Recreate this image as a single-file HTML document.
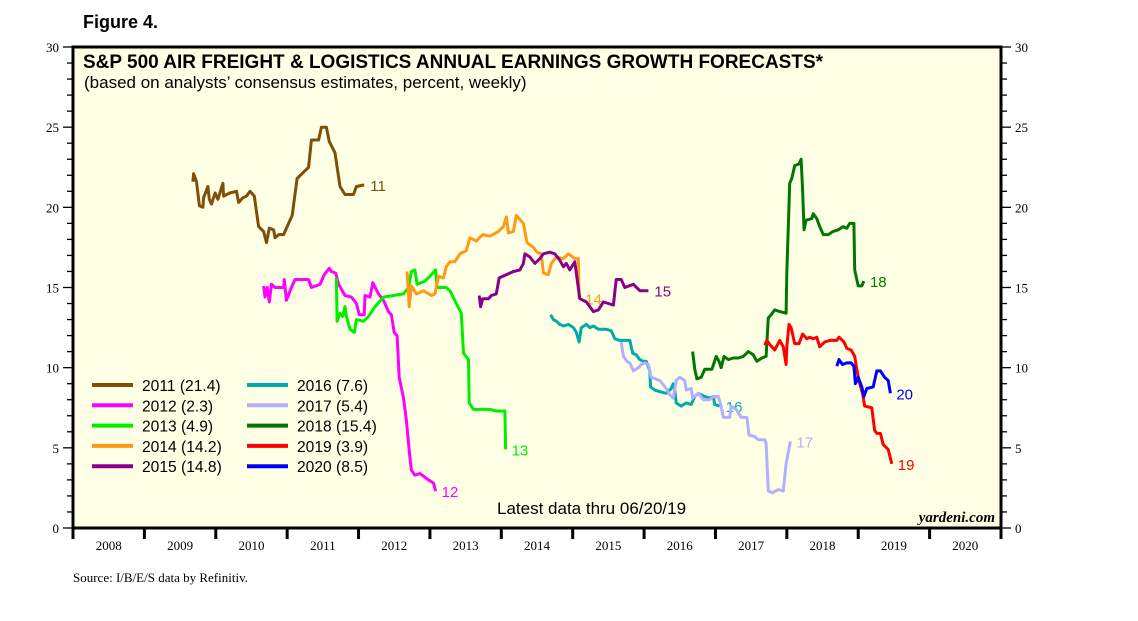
<!DOCTYPE html>
<html><head><meta charset="utf-8">
<style>
body{margin:0;background:#fff;width:1138px;height:621px;overflow:hidden}
svg{display:block}
</style></head>
<body>
<svg id="chart" width="1138" height="621" xmlns="http://www.w3.org/2000/svg">
<text x="83" y="28" font-family="Liberation Sans, sans-serif" font-weight="bold" font-size="18">Figure 4.</text>
<rect x="73" y="47" width="928" height="481" fill="#ffffe6"/>
<g id="series"></g>
<g id="axes"></g>
<rect x="73" y="47" width="928" height="481" fill="none" stroke="#000" stroke-width="3"/>
<text x="83" y="68" font-family="Liberation Sans, sans-serif" font-weight="bold" font-size="19">S&amp;P 500 AIR FREIGHT &amp; LOGISTICS ANNUAL EARNINGS GROWTH FORECASTS*</text>
<text x="84" y="88" font-family="Liberation Sans, sans-serif" font-size="17">(based on analysts’ consensus estimates, percent, weekly)</text>
<text x="497" y="514" font-family="Liberation Sans, sans-serif" font-size="17">Latest data thru 06/20/19</text>
<text x="995" y="522" text-anchor="end" font-family="Liberation Serif, serif" font-weight="bold" font-style="italic" font-size="15">yardeni.com</text>
<text x="73" y="582" font-family="Liberation Serif, serif" font-size="13">Source: I/B/E/S data by Refinitiv.</text>
<g id="legend"></g>
</svg>
<script>
const years = [2008,2009,2010,2011,2012,2013,2014,2015,2016,2017,2018,2019,2020];
const yTicks = [0,5,10,15,20,25,30];
const seriesNames = ["2011","2012","2013","2014","2015","2016","2017","2018","2019","2020"];
const seriesLatest = ["21.4","2.3","4.9","14.2","14.8","7.6","5.4","15.4","3.9","8.5"];
const endLabels = ["11","12","13","14","15","16","17","18","19","20"];
const colors = ["#7f4f0a","#ff00ff","#00ee00","#ff9a17","#8b008b","#00aaaa","#b0b0ff","#007700","#ff0000","#0000ff"];

const d2011 = [[2009.68,21.6],[2009.69,22.1],[2009.73,21.6],[2009.77,20.1],[2009.82,20.0],[2009.83,20.6],[2009.89,21.3],[2009.91,20.5],[2009.94,20.2],[2009.99,20.9],[2010.03,20.5],[2010.10,21.5],[2010.11,20.7],[2010.20,20.9],[2010.29,21.0],[2010.32,20.3],[2010.38,20.6],[2010.43,20.7],[2010.48,21.0],[2010.54,20.7],[2010.60,18.8],[2010.67,18.5],[2010.71,17.8],[2010.75,18.7],[2010.81,18.6],[2010.83,18.1],[2010.88,18.3],[2010.95,18.3],[2011.02,19.0],[2011.07,19.5],[2011.14,21.8],[2011.23,22.2],[2011.30,22.5],[2011.34,24.2],[2011.44,24.2],[2011.48,25.0],[2011.55,25.0],[2011.59,24.1],[2011.67,23.4],[2011.74,21.3],[2011.81,20.8],[2011.93,20.8],[2011.97,21.3],[2012.08,21.4]];
const d2012 = [[2010.67,15.1],[2010.69,14.4],[2010.72,15.0],[2010.75,14.1],[2010.78,15.2],[2010.83,15.0],[2010.95,15.0],[2010.96,15.5],[2010.99,14.2],[2011.06,15.0],[2011.11,15.5],[2011.20,15.5],[2011.30,15.5],[2011.34,15.0],[2011.46,15.2],[2011.52,15.8],[2011.59,16.2],[2011.62,16.0],[2011.68,15.9],[2011.72,15.2],[2011.81,14.5],[2011.90,14.4],[2011.97,14.0],[2012.01,13.3],[2012.08,13.3],[2012.09,14.5],[2012.16,14.4],[2012.20,15.3],[2012.28,14.6],[2012.35,14.2],[2012.42,13.5],[2012.46,13.3],[2012.50,12.2],[2012.54,12.0],[2012.57,9.4],[2012.63,8.1],[2012.67,6.7],[2012.72,4.4],[2012.74,3.6],[2012.79,3.3],[2012.86,3.4],[2012.98,3.0],[2013.05,2.8],[2013.08,2.3]];
const d2013 = [[2011.69,15.6],[2011.70,12.9],[2011.74,13.4],[2011.78,13.2],[2011.81,13.8],[2011.83,13.2],[2011.88,12.4],[2011.94,12.2],[2011.97,13.0],[2012.07,12.9],[2012.14,13.2],[2012.23,13.8],[2012.35,14.4],[2012.49,14.5],[2012.63,14.6],[2012.70,15.0],[2012.74,16.0],[2012.79,16.1],[2012.82,15.2],[2012.93,15.4],[2013.02,15.8],[2013.08,16.1],[2013.10,15.0],[2013.23,15.0],[2013.28,14.8],[2013.37,14.0],[2013.44,13.4],[2013.47,10.9],[2013.54,10.5],[2013.55,7.8],[2013.61,7.4],[2013.70,7.4],[2013.84,7.4],[2013.93,7.3],[2014.05,7.3],[2014.06,4.9]];
const d2014 = [[2012.68,16.0],[2012.71,13.8],[2012.74,15.1],[2012.81,14.6],[2012.91,14.8],[2013.02,14.5],[2013.07,14.6],[2013.12,15.7],[2013.19,15.6],[2013.23,16.3],[2013.28,16.6],[2013.35,16.6],[2013.42,17.1],[2013.51,17.3],[2013.56,18.1],[2013.65,17.9],[2013.74,18.3],[2013.84,18.2],[2013.96,18.5],[2014.03,18.8],[2014.07,19.4],[2014.10,18.4],[2014.17,18.5],[2014.21,19.5],[2014.31,19.0],[2014.36,17.8],[2014.45,17.5],[2014.50,17.2],[2014.56,17.1],[2014.59,15.9],[2014.66,15.8],[2014.70,16.5],[2014.77,16.9],[2014.87,16.8],[2014.94,17.1],[2015.03,16.8],[2015.08,16.8],[2015.09,14.3]];
const d2015 = [[2013.69,14.5],[2013.71,13.8],[2013.74,14.3],[2013.82,14.3],[2013.86,14.5],[2013.93,14.6],[2013.97,15.6],[2014.07,15.8],[2014.17,16.0],[2014.26,16.1],[2014.31,16.5],[2014.33,17.1],[2014.40,16.9],[2014.47,16.5],[2014.54,16.8],[2014.59,17.1],[2014.68,17.2],[2014.75,17.1],[2014.82,16.7],[2014.87,16.3],[2014.91,16.5],[2014.96,16.1],[2015.03,16.6],[2015.10,14.3],[2015.19,14.1],[2015.29,13.5],[2015.36,13.6],[2015.43,14.1],[2015.50,14.0],[2015.57,13.9],[2015.61,15.5],[2015.68,15.5],[2015.73,15.0],[2015.85,15.2],[2015.94,14.8],[2016.06,14.8]];
const d2016 = [[2014.69,13.3],[2014.73,13.0],[2014.77,12.9],[2014.82,12.7],[2014.87,12.6],[2014.94,12.7],[2015.01,12.5],[2015.05,12.2],[2015.09,11.6],[2015.12,12.5],[2015.19,12.7],[2015.24,12.5],[2015.29,12.6],[2015.36,12.4],[2015.47,12.4],[2015.54,12.3],[2015.59,11.8],[2015.66,11.7],[2015.73,11.7],[2015.80,11.7],[2015.84,10.9],[2015.89,10.8],[2015.94,10.5],[2015.99,10.4],[2016.03,10.4],[2016.08,9.8],[2016.09,8.8],[2016.15,8.6],[2016.22,8.5],[2016.31,8.4],[2016.38,8.7],[2016.41,9.0],[2016.43,8.6],[2016.45,7.8],[2016.52,7.6],[2016.59,7.8],[2016.66,7.7],[2016.71,8.2],[2016.76,8.4],[2016.85,8.2],[2016.92,8.1],[2016.97,8.2],[2016.99,7.7],[2017.06,7.6]];
const d2017 = [[2015.68,11.6],[2015.71,10.7],[2015.76,10.4],[2015.80,10.3],[2015.85,9.8],[2015.92,10.0],[2015.96,10.2],[2016.01,10.3],[2016.06,10.2],[2016.10,9.4],[2016.22,9.2],[2016.31,8.7],[2016.36,8.3],[2016.41,8.1],[2016.45,9.2],[2016.50,9.4],[2016.57,9.2],[2016.59,8.6],[2016.66,8.7],[2016.68,8.1],[2016.76,8.4],[2016.83,8.0],[2016.92,8.0],[2016.97,8.2],[2017.04,8.2],[2017.08,7.6],[2017.11,6.9],[2017.20,6.9],[2017.22,7.6],[2017.29,7.4],[2017.36,6.9],[2017.44,6.9],[2017.47,5.8],[2017.55,5.7],[2017.60,5.5],[2017.69,5.5],[2017.71,5.3],[2017.74,2.3],[2017.80,2.2],[2017.88,2.4],[2017.95,2.3],[2017.99,4.0],[2018.02,4.7],[2018.05,5.4]];
const d2018 = [[2016.68,11.0],[2016.71,9.9],[2016.74,9.3],[2016.80,9.4],[2016.85,9.9],[2016.95,9.9],[2017.01,10.7],[2017.05,10.4],[2017.08,10.0],[2017.12,10.7],[2017.18,10.5],[2017.25,10.6],[2017.32,10.6],[2017.39,10.7],[2017.46,11.0],[2017.53,10.8],[2017.58,10.4],[2017.65,10.6],[2017.71,10.7],[2017.74,13.1],[2017.78,13.3],[2017.83,13.6],[2017.90,13.5],[2017.99,13.4],[2018.00,15.9],[2018.04,21.5],[2018.07,21.8],[2018.11,22.6],[2018.17,22.7],[2018.20,23.0],[2018.22,21.1],[2018.24,18.6],[2018.27,19.2],[2018.35,19.3],[2018.37,19.6],[2018.42,19.3],[2018.46,18.8],[2018.51,18.3],[2018.58,18.3],[2018.65,18.5],[2018.72,18.6],[2018.79,18.8],[2018.84,18.7],[2018.88,19.0],[2018.94,19.0],[2018.95,16.1],[2019.00,15.1],[2019.05,15.1],[2019.08,15.4]];
const d2019 = [[2017.69,11.4],[2017.72,11.7],[2017.77,11.4],[2017.83,11.1],[2017.90,11.7],[2017.95,11.3],[2017.99,10.2],[2018.00,11.3],[2018.03,12.7],[2018.06,12.5],[2018.11,11.5],[2018.17,11.5],[2018.22,12.1],[2018.28,11.8],[2018.32,11.9],[2018.37,11.8],[2018.42,11.9],[2018.46,11.3],[2018.53,11.6],[2018.60,11.7],[2018.70,11.7],[2018.73,11.9],[2018.80,11.6],[2018.84,11.2],[2018.90,11.1],[2018.95,10.7],[2018.98,9.9],[2019.01,9.2],[2019.06,8.4],[2019.09,7.6],[2019.19,7.5],[2019.23,6.1],[2019.26,5.9],[2019.31,5.9],[2019.35,5.2],[2019.42,4.9],[2019.47,4.0]];
const d2020 = [[2018.70,10.1],[2018.73,10.5],[2018.78,10.2],[2018.84,10.3],[2018.90,10.3],[2018.94,10.1],[2018.96,9.0],[2019.00,9.4],[2019.05,8.8],[2019.08,8.2],[2019.12,8.7],[2019.21,8.8],[2019.26,9.8],[2019.31,9.8],[2019.37,9.4],[2019.42,9.2],[2019.45,8.4]];
const allSeries = [d2011,d2012,d2013,d2014,d2015,d2016,d2017,d2018,d2019,d2020];

const NS = "http://www.w3.org/2000/svg";
const L=73,R=1001,T=47,B=528;
const xs = t => L + (t-2008)*(R-L)/13;
const ys = v => B - v*(B-T)/30;
function mk(tag, attrs, parent){const e=document.createElementNS(NS,tag);for(const k in attrs)e.setAttribute(k,attrs[k]);parent.appendChild(e);return e;}

const axes=document.getElementById('axes');
for(let v=0; v<=30; v++){
  const y=ys(v), major=v%5===0, len=major?10:6;
  const tl=mk('line',{x1:L-len,x2:L,y1:y,y2:y,stroke:'#000','stroke-width':1.3},axes);
  
  
  const tr=mk('line',{x1:R,x2:R+len,y1:y,y2:y,stroke:'#000','stroke-width':1.3},axes);
  
  
}
yTicks.forEach(v=>{
  const a=mk('text',{x:L-14,y:ys(v)+5,'text-anchor':'end','font-family':'Liberation Serif, serif','font-size':13},axes);
  a.textContent=v;
  
  
  const b=mk('text',{x:R+14,y:ys(v)+5,'font-family':'Liberation Serif, serif','font-size':13},axes);
  b.textContent=v;
  
  
});
for(let i=0;i<=years.length;i++){
  const t=mk('line',{x1:xs(2008+i),x2:xs(2008+i),y1:B,y2:B+11,stroke:'#000','stroke-width':3},axes);
  
  
}
years.forEach(yr=>{
  const t=mk('text',{x:xs(yr+0.5),y:550,'text-anchor':'middle','font-family':'Liberation Serif, serif','font-size':13},axes);
  t.textContent=yr;
  
  
});

const sg=document.getElementById('series');
allSeries.forEach((d,i)=>{
  const p=mk('polyline',{points:d.map(q=>xs(q[0]).toFixed(1)+','+ys(q[1]).toFixed(1)).join(' '),fill:'none',stroke:colors[i],'stroke-width':3,'stroke-linejoin':'round'},sg);
  
  
  const last=d[d.length-1];
  const lb=mk('text',{x:xs(last[0])+6,y:ys(last[1])+6,fill:colors[i],'font-family':'Liberation Sans, sans-serif','font-size':15},sg);
  lb.textContent=endLabels[i];
  
  
});

const lg=document.getElementById('legend');
seriesNames.forEach((n,i)=>{
  const col=Math.floor(i/5), row=i%5;
  const x0=col?247:92, y0=385+row*20.3;
  const ln=mk('line',{x1:x0,x2:x0+41,y1:y0,y2:y0,stroke:colors[i],'stroke-width':4},lg);
  
  
  const tx=mk('text',{x:x0+50,y:y0+6,'font-family':'Liberation Sans, sans-serif','font-size':15.6},lg);
  tx.textContent=n+' ('+seriesLatest[i]+')';
  
  
});
</script>
</body></html>
